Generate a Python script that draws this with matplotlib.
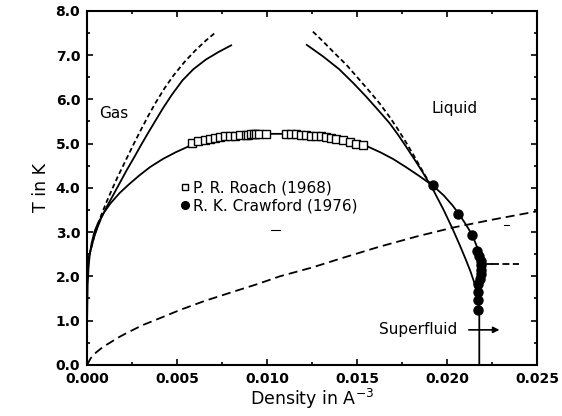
import matplotlib
matplotlib.use("Agg")
import matplotlib.pyplot as plt
from matplotlib.ticker import MultipleLocator

plt.rcParams['font.family'] = ['DejaVu Sans']
plt.rcParams['lines.scale_dashes'] = False

# coexistence dome (vapour branch -> critical point -> liquid branch)
dome_rho = [0.0, 0.0, 0.00003, 0.00008, 0.00015, 0.00025, 0.0004, 0.0006, 0.0009,
            0.0013, 0.0018, 0.0023, 0.0029, 0.0035, 0.0042, 0.0049, 0.0056, 0.0063,
            0.0071, 0.0080, 0.0090, 0.0100, 0.0110, 0.0120, 0.0128, 0.0136, 0.0144,
            0.0150, 0.0156, 0.0163, 0.0170, 0.0177, 0.0184, 0.0192, 0.0198, 0.0203,
            0.0207, 0.0211, 0.0214, 0.0216, 0.02175, 0.02185, 0.0219, 0.0219,
            0.02185, 0.0218, 0.02178, 0.02178]
dome_T = [0.0, 1.0, 1.8, 2.2, 2.5, 2.75, 3.0, 3.2, 3.42,
          3.65, 3.88, 4.07, 4.28, 4.47, 4.65, 4.8, 4.93, 5.04,
          5.12, 5.18, 5.21, 5.22, 5.22, 5.20, 5.17, 5.12, 5.06,
          5.0, 4.93, 4.8, 4.65, 4.47, 4.28, 4.05, 3.83, 3.6,
          3.38, 3.13, 2.92, 2.72, 2.55, 2.4, 2.25, 2.1,
          1.9, 1.6, 1.3, 0.0]

# upper solid curves
gas_rho = [0.0, 0.0001, 0.0002, 0.0004, 0.0006, 0.0008, 0.0011, 0.0014, 0.0018,
           0.0022, 0.0026, 0.0030, 0.0034, 0.0038, 0.0042, 0.0047, 0.0053, 0.0059,
           0.0066, 0.0073, 0.0080]
gas_T = [2.3, 2.45, 2.6, 2.9, 3.13, 3.33, 3.58, 3.8, 4.1,
         4.4, 4.68, 4.97, 5.25, 5.52, 5.79, 6.1, 6.43, 6.68,
         6.9, 7.07, 7.22]
liq_rho = [0.0122, 0.0131, 0.0140, 0.0148, 0.0155, 0.0162, 0.0168, 0.01725, 0.0177,
           0.0182, 0.01864, 0.0192, 0.0198, 0.0203, 0.0207, 0.02105, 0.0213, 0.0215,
           0.0216, 0.0217, 0.02175, 0.02178]
liq_T = [7.23, 6.97, 6.68, 6.36, 6.06, 5.74, 5.46, 5.21, 4.94,
         4.63, 4.35, 3.97, 3.5, 3.07, 2.7, 2.36, 2.1, 1.86,
         1.7, 1.5, 1.35, 1.2]

# upper dashed curves
gas_d_rho = [0.0, 0.0001, 0.0002, 0.0004, 0.0006, 0.0008, 0.0011, 0.0014, 0.0017,
             0.0020, 0.0023, 0.0026, 0.0030, 0.0034, 0.0038, 0.0043, 0.0048, 0.0054,
             0.0060, 0.0066, 0.0071]
gas_d_T = [2.3, 2.45, 2.6, 2.92, 3.17, 3.4, 3.7, 3.98, 4.25,
           4.5, 4.75, 5.0, 5.32, 5.63, 5.92, 6.25, 6.54, 6.84,
           7.1, 7.33, 7.5]
liq_d_rho = [0.01254, 0.0131, 0.0137, 0.0144, 0.0150, 0.0156, 0.01624, 0.0168,
             0.01725, 0.01772, 0.0181, 0.01846, 0.0188, 0.0190]
liq_d_T = [7.53, 7.31, 7.06, 6.78, 6.5, 6.22, 5.91, 5.6,
           5.33, 5.02, 4.76, 4.5, 4.26, 4.12]

# lower dashed curve
low_rho = [0.0, 0.0002, 0.0005, 0.0009, 0.00127, 0.0017, 0.0022, 0.0031, 0.0042,
           0.00516, 0.0065, 0.0081, 0.0095, 0.0107, 0.0125, 0.0143, 0.01624,
           0.0183, 0.0203, 0.0225, 0.0250]
low_T = [0.0, 0.15, 0.28, 0.41, 0.5, 0.61, 0.72, 0.9, 1.08,
         1.24, 1.44, 1.65, 1.83, 2.0, 2.2, 2.43, 2.67,
         2.9, 3.1, 3.28, 3.47]

# lambda line stub
lam_solid_rho = [0.02195, 0.0225]
lam_dash_rho = [0.0225, 0.0240]
lam_T = [2.27, 2.27]

# small stray marks in the original figure
mark1_rho = [0.01024, 0.0107]
mark1_T = [3.05, 3.05]
mark2_rho = [0.02317, 0.02345]
mark2_T = [3.16, 3.16]

# P. R. Roach (1968)
roach_rho = [0.00580, 0.00617, 0.00654, 0.00682, 0.00710, 0.00737, 0.00765, 0.00793,
             0.00820, 0.00848, 0.00880, 0.00895, 0.00910, 0.00925, 0.00940, 0.00955,
             0.00992, 0.01107, 0.01135, 0.01162, 0.01190, 0.01218, 0.01246, 0.01273,
             0.01301, 0.01329, 0.01356, 0.01384, 0.01421, 0.01458, 0.01495, 0.01532]
roach_T = [5.02, 5.06, 5.09, 5.11, 5.13, 5.14, 5.16, 5.17,
           5.18, 5.19, 5.20, 5.205, 5.21, 5.21, 5.21, 5.21,
           5.21, 5.22, 5.21, 5.21, 5.20, 5.19, 5.18, 5.17,
           5.16, 5.14, 5.12, 5.10, 5.07, 5.03, 4.99, 4.96]

# R. K. Crawford (1976)
craw_rho = [0.0192, 0.0206, 0.0214, 0.02168, 0.02178, 0.02185, 0.0219, 0.0219,
            0.02185, 0.0218, 0.02172, 0.0217, 0.0217, 0.0217]
craw_T = [4.07, 3.41, 2.93, 2.57, 2.45, 2.35, 2.25, 2.15,
          2.05, 1.95, 1.82, 1.65, 1.47, 1.25]

fig = plt.figure(figsize=(5.62, 4.16), dpi=100)
ax = fig.add_axes([0.155, 0.123, 0.801, 0.851])

lw = 1.3
ax.plot(dome_rho, dome_T, color='black', lw=lw)
ax.plot(gas_rho, gas_T, color='black', lw=lw)
ax.plot(liq_rho, liq_T, color='black', lw=lw)
ax.plot(gas_d_rho, gas_d_T, color='black', lw=lw, dashes=(3.5, 2.2))
ax.plot(liq_d_rho, liq_d_T, color='black', lw=lw, dashes=(3.5, 2.2))
ax.plot(low_rho, low_T, color='black', lw=lw, dashes=(6.5, 3.6))
ax.plot(lam_solid_rho, lam_T, color='black', lw=lw)
ax.plot(lam_dash_rho, lam_T, color='black', lw=lw, dashes=(5, 2.5))
ax.plot(mark1_rho, mark1_T, color='black', lw=0.8)
ax.plot(mark2_rho, mark2_T, color='black', lw=0.8)

sq, = ax.plot(roach_rho, roach_T, ls='none', marker='s', ms=5.5, mfc='white',
              mec='black', mew=1.0, label='P. R. Roach (1968)')
ci, = ax.plot(craw_rho, craw_T, ls='none', marker='o', ms=6.5, mfc='black',
              mec='black', label='R. K. Crawford (1976)')

ax.legend(handles=[sq, ci], loc='upper left', bbox_to_anchor=(0.205, 0.52),
          frameon=False, handletextpad=0.2, handlelength=0.7, labelspacing=0.15,
          borderaxespad=0, borderpad=0, fontsize=11, markerscale=0.85)

ax.text(0.00067, 5.67, 'Gas', fontsize=11, va='center')
ax.text(0.0191, 5.8, 'Liquid', fontsize=11, va='center')
ax.text(0.0162, 0.79, 'Superfluid', fontsize=11, va='center')
ax.annotate('', xy=(0.0229, 0.79), xytext=(0.0212, 0.79),
            arrowprops=dict(arrowstyle='-|>', color='black', lw=1.2,
                            mutation_scale=9, shrinkA=0, shrinkB=0))

ax.set_xlim(0, 0.025)
ax.set_ylim(0, 8)
ax.xaxis.set_major_locator(MultipleLocator(0.005))
ax.xaxis.set_minor_locator(MultipleLocator(0.0025))
ax.yaxis.set_major_locator(MultipleLocator(1.0))
ax.yaxis.set_minor_locator(MultipleLocator(0.5))
ax.xaxis.set_major_formatter(plt.FormatStrFormatter('%.3f'))
ax.yaxis.set_major_formatter(plt.FormatStrFormatter('%.1f'))
ax.tick_params(which='both', direction='in', top=True, right=True, width=1.2)
ax.tick_params(which='major', length=4, labelsize=10, pad=5)
ax.tick_params(which='minor', length=2.5)
for lab in ax.get_xticklabels() + ax.get_yticklabels():
    lab.set_fontweight('bold')
for sp in ax.spines.values():
    sp.set_linewidth(1.5)

ax.set_xlabel('Density in A$^{\\mathregular{-3}}$', fontsize=12.5, labelpad=1)
ax.set_ylabel('T in K', fontsize=12.5, labelpad=4)

fig.savefig('out.png', dpi=100)
